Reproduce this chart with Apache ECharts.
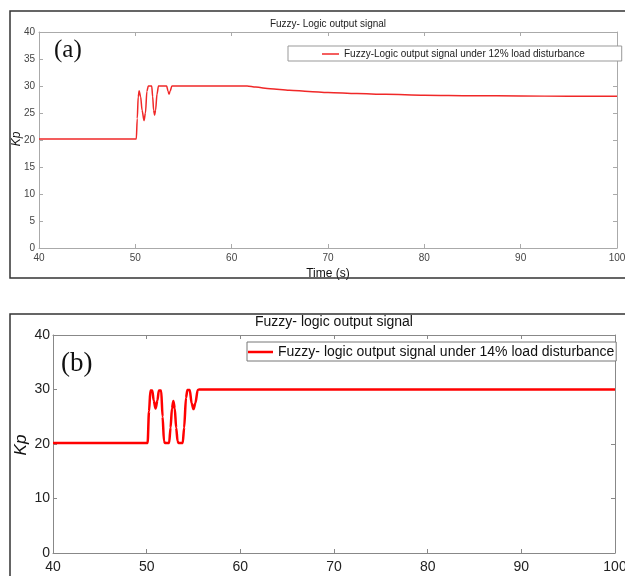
<!DOCTYPE html>
<html>
<head>
<meta charset="utf-8">
<script src="https://cdn.jsdelivr.net/npm/echarts@6/dist/echarts.min.js"></script>
<style>html,body{margin:0;padding:0;background:#fff;}#c{width:625px;height:576px;}</style>
</head>
<body>
<div id="c"></div>
<script>
// Panel (a): 12% load disturbance
const timeA = [40, 50.1, 50.2, 50.3, 50.4, 50.55, 50.7, 50.9, 51.05, 51.2, 51.35, 51.7, 51.8, 51.9, 52.0, 52.1, 52.25, 52.4, 53.25, 53.4, 53.5, 53.6, 53.8, 61.6, 62.5, 64, 66, 68, 70, 73, 76, 80, 85, 90, 95, 100];
const kpA   = [20.2, 20.2, 24, 28, 29.1, 28, 25.5, 23.6, 25, 29, 30, 30, 28, 25.5, 24.6, 25.5, 28.5, 30, 30, 29, 28.5, 29, 30, 30, 29.8, 29.5, 29.2, 29.0, 28.8, 28.6, 28.45, 28.3, 28.2, 28.15, 28.1, 28.1];
// Panel (b): 14% load disturbance
const timeB = [40, 50.1, 50.25, 50.4, 50.6, 50.75, 50.95, 51.15, 51.3, 51.55, 51.7, 51.85, 51.95, 52.4, 52.55, 52.7, 52.85, 53.0, 53.15, 53.3, 53.4, 53.85, 54.0, 54.2, 54.35, 54.6, 54.8, 55.0, 55.2, 55.45, 55.6, 100];
const kpB   = [20.2, 20.2, 26, 29.8, 29.8, 28, 26.5, 28, 29.8, 29.8, 25, 20.5, 20.2, 20.2, 23, 26.5, 27.9, 26.5, 23, 20.5, 20.2, 20.2, 23, 28.5, 29.9, 29.9, 27.5, 26.4, 27.5, 29.9, 30, 30];

const xTicks = [40, 50, 60, 70, 80, 90, 100];
const yTicksA = [0, 5, 10, 15, 20, 25, 30, 35, 40];
const yTicksB = [0, 10, 20, 30, 40];

const nameA = 'Fuzzy-Logic output signal under 12% load disturbance';
const nameB = 'Fuzzy- logic output signal under 14% load disturbance';
const titleA = 'Fuzzy- Logic output signal';
const titleB = 'Fuzzy- logic output signal';
const yName = 'Kp';
const xName = 'Time (s)';

const pairs = (xs, ys) => xs.map((x, i) => [x, ys[i]]);

const chart = echarts.init(document.getElementById('c'));
const FONT = 'Liberation Sans, Arial, sans-serif';

function xAxes(gi, fs, col, lc, margin) {
  return [
    { gridIndex: gi, type: 'value', min: xTicks[0], max: xTicks[xTicks.length-1], interval: 10,
      axisLine: { show: true, lineStyle: { color: lc, width: 1 } },
      axisTick: { show: true, inside: true, length: 4, lineStyle: { color: lc } },
      axisLabel: { fontSize: fs, color: col, fontFamily: FONT, margin: margin },
      splitLine: { show: false } },
    { gridIndex: gi, type: 'value', position: 'top', min: xTicks[0], max: xTicks[xTicks.length-1], interval: 10,
      axisLine: { show: true, onZero: false, lineStyle: { color: lc, width: 1 } },
      axisTick: { show: true, inside: true, length: 4, lineStyle: { color: lc } },
      axisLabel: { show: false }, splitLine: { show: false } }
  ];
}
function yAxes(gi, ticks, fs, col, lc, margin) {
  const iv = ticks[1] - ticks[0];
  return [
    { gridIndex: gi, type: 'value', min: ticks[0], max: ticks[ticks.length-1], interval: iv,
      axisLine: { show: true, onZero: false, lineStyle: { color: lc, width: 1 } },
      axisTick: { show: true, inside: true, length: 4, lineStyle: { color: lc } },
      axisLabel: { fontSize: fs, color: col, fontFamily: FONT, margin: margin },
      splitLine: { show: false } },
    { gridIndex: gi, type: 'value', position: 'right', min: ticks[0], max: ticks[ticks.length-1], interval: iv,
      axisLine: { show: true, onZero: false, lineStyle: { color: lc, width: 1 } },
      axisTick: { show: true, inside: true, length: 4, lineStyle: { color: lc } },
      axisLabel: { show: false }, splitLine: { show: false } }
  ];
}

const xa = xAxes(0, 10, '#444', '#aaaaaa', 5).concat(xAxes(1, 14, '#222', '#888888', 7));
xa[0].name = xName;
xa[0].nameLocation = 'middle';
xa[0].nameGap = 20;
xa[0].nameTextStyle = { fontSize: 12, color: '#111', fontFamily: FONT };
const ya = yAxes(0, yTicksA, 10, '#444', '#aaaaaa', 4).concat(yAxes(1, yTicksB, 14, '#222', '#888888', 3));

function rotLabel(x, y, size) {
  return { type: 'text', x: x, y: y, rotation: Math.PI / 2, z: 100,
    style: { text: yName, fontSize: size, fontStyle: 'italic', fontFamily: FONT, fill: '#111',
      align: 'center', verticalAlign: 'middle', textAlign: 'center', textVerticalAlign: 'middle' } };
}

chart.setOption({
  animation: false,
  backgroundColor: '#fff',
  title: [
    { text: titleA, left: 328, top: 19, textAlign: 'center', textStyle: { fontSize: 10, fontWeight: 'normal', color: '#222', fontFamily: FONT }, padding: 0 },
    { text: titleB, left: 334, top: 315, textAlign: 'center', textStyle: { fontSize: 14, fontWeight: 'normal', color: '#111', fontFamily: FONT }, padding: 0 }
  ],
  legend: [
    { data: [nameA], left: 288, top: 46, orient: 'horizontal', padding: [3, 37, 2, 34], icon: 'rect', itemWidth: 17, itemHeight: 1.5, itemGap: 0,
      borderColor: '#999', borderWidth: 1, backgroundColor: '#fff',
      textStyle: { fontSize: 10, color: '#222', fontFamily: FONT } },
    { data: [nameB], left: 247, top: 342, orient: 'horizontal', padding: [3, 2, 2, 1], icon: 'rect', itemWidth: 25, itemHeight: 2.5, itemGap: 0,
      borderColor: '#777', borderWidth: 1, backgroundColor: '#fff',
      textStyle: { fontSize: 14, color: '#111', fontFamily: FONT } }
  ],
  grid: [
    { left: 39, top: 32, width: 578, height: 216, outerBoundsMode: 'none', containLabel: false },
    { left: 53, top: 335, width: 562, height: 218, outerBoundsMode: 'none', containLabel: false }
  ],
  xAxis: xa,
  yAxis: ya,
  series: [
    { name: nameA, type: 'line', xAxisIndex: 0, yAxisIndex: 0, data: pairs(timeA, kpA), symbol: 'none',
      smooth: 0.3, smoothMonotone: 'x', lineStyle: { color: '#f02828', width: 1.5 }, itemStyle: { color: '#f02828' } },
    { name: nameB, type: 'line', xAxisIndex: 2, yAxisIndex: 2, data: pairs(timeB, kpB), symbol: 'none',
      smooth: 0.3, smoothMonotone: 'x', lineStyle: { color: '#ff0000', width: 2.5 }, itemStyle: { color: '#ff0000' } }
  ],
  graphic: [
    { type: 'rect', shape: { x: 10, y: 11, width: 620, height: 267 }, style: { fill: 'none', stroke: '#333', lineWidth: 1.5 }, z: 100 },
    { type: 'rect', shape: { x: 10, y: 314, width: 620, height: 300 }, style: { fill: 'none', stroke: '#333', lineWidth: 1.5 }, z: 100 },
    { type: 'text', left: 54, top: 38, style: { text: '(a)', fontSize: 25, fontFamily: 'Liberation Serif, DejaVu Serif, serif', fill: '#111' }, z: 100 },
    { type: 'text', left: 61, top: 350, style: { text: '(b)', fontSize: 27, fontFamily: 'Liberation Serif, DejaVu Serif, serif', fill: '#111' }, z: 100 },
    rotLabel(17, 139, 12),
    rotLabel(21, 445, 17)
  ]
});
</script>
</body>
</html>
